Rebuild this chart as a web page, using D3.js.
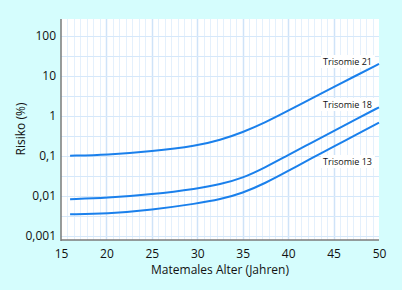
<!DOCTYPE html>
<html><head><meta charset="utf-8">
<script src="https://cdn.jsdelivr.net/npm/d3@7"></script>
<style>
html,body{margin:0;padding:0;background:#d5fdfd;}
svg{display:block;font-family:"Open Sans",sans-serif;}
</style></head>
<body><svg id="c" width="402" height="290"></svg>
<script>
const ages = [16, 20, 25, 30, 32.5, 35, 37.5, 40, 42.5, 45, 47.5, 50];
const trisomie21 = [0.102, 0.107, 0.13, 0.18, 0.25, 0.39, 0.69, 1.35, 2.7, 5.3, 10.3, 20];
const trisomie18 = [0.0083, 0.0089, 0.011, 0.0152, 0.0195, 0.028, 0.052, 0.106, 0.21, 0.42, 0.84, 1.65];
const trisomie13 = [0.0035, 0.0036, 0.0045, 0.0065, 0.0082, 0.0118, 0.021, 0.042, 0.087, 0.17, 0.345, 0.68];
const seriesNames = ["Trisomie 21", "Trisomie 18", "Trisomie 13"];
const xTicks = [15, 20, 25, 30, 35, 40, 45, 50];
const yTicks = [0.001, 0.01, 0.1, 1, 10, 100];
const yTickLabels = ["0,001", "0,01", "0,1", "1", "10", "100"];
const xTitle = "Matemales Alter (Jahren)";
const yTitle = "Risiko (%)";

const svg = d3.select("#c");
const L = 61, R = 379, T = 19, B = 240;
const x = d3.scaleLinear().domain([15, 50]).range([L, R]);
const y = d3.scaleLog().domain([0.001, 100]).range([236, 36]);

svg.append("rect").attr("x", L).attr("y", T).attr("width", R - L).attr("height", B - T).attr("fill", "#fff");

// vertical grid: 7 subdivisions per 5 years
const g = svg.append("g");
for (let i = 1; i < 49; i++) {
  const v = 15 + i * 5 / 7;
  const major = i % 7 === 0;
  g.append("line").attr("x1", Math.round(x(v)) + 0.5).attr("x2", Math.round(x(v)) + 0.5)
    .attr("y1", T).attr("y2", B)
    .attr("stroke", major ? "#cfe3f8" : "#e4f0fc").attr("stroke-width", major ? 1.5 : 1);
}
// horizontal grid: half decades
for (let k = -6; k <= 4; k++) {
  const v = Math.pow(10, k / 2);
  const yy = y(v);
  if (yy < T || yy > B - 1) continue;
  g.append("line").attr("x1", L).attr("x2", R).attr("y1", Math.round(yy) + 0.5).attr("y2", Math.round(yy) + 0.5)
    .attr("stroke", "#d6e8fa").attr("stroke-width", 1.2);
}

// axes
svg.append("line").attr("x1", L).attr("x2", L).attr("y1", T).attr("y2", B + 1).attr("stroke", "#7a7a7a").attr("stroke-width", 1.5);
svg.append("line").attr("x1", L).attr("x2", R).attr("y1", B).attr("y2", B).attr("stroke", "#7a7a7a").attr("stroke-width", 1.5);

const xa = svg.append("g").attr("transform", `translate(0,${B})`)
  .call(d3.axisBottom(x).tickValues(xTicks).tickSize(0).tickPadding(9));
xa.select(".domain").remove();
xa.selectAll("text").attr("font-size", 12).attr("fill", "#111").attr("font-family", "Open Sans");

const ya = svg.append("g").attr("transform", `translate(${L},0)`)
  .call(d3.axisLeft(y).tickValues(yTicks).tickFormat((d, i) => yTickLabels[i]).tickSize(0).tickPadding(5));
ya.select(".domain").remove();
ya.selectAll("text").attr("font-size", 12).attr("fill", "#111").attr("font-family", "Open Sans");

svg.append("text").attr("x", 220).attr("y", 274).attr("text-anchor", "middle")
  .attr("font-size", 12).attr("fill", "#111").text(xTitle);
svg.append("text").attr("transform", "translate(25,129) rotate(-90)").attr("text-anchor", "middle")
  .attr("font-size", 12).attr("fill", "#111").text(yTitle);

const labelY = [62, 105, 162];
seriesNames.forEach((n, i) => {
  svg.append("rect").attr("x", 321).attr("y", labelY[i] - 7).attr("width", 54).attr("height", 13).attr("fill", "#fff");
  svg.append("text").attr("x", 372).attr("y", labelY[i]).attr("dy", "0.35em").attr("text-anchor", "end")
    .attr("font-size", 9).attr("fill", "#111").text(n);
});

const line = d3.line().x((d, i) => x(ages[i])).y(d => y(d)).curve(d3.curveBasis);
const data = [trisomie21, trisomie18, trisomie13];
data.forEach(s => {
  svg.append("path").attr("d", line(s)).attr("fill", "none").attr("stroke", "#1a80ec").attr("stroke-width", 2);
});
</script></body></html>
